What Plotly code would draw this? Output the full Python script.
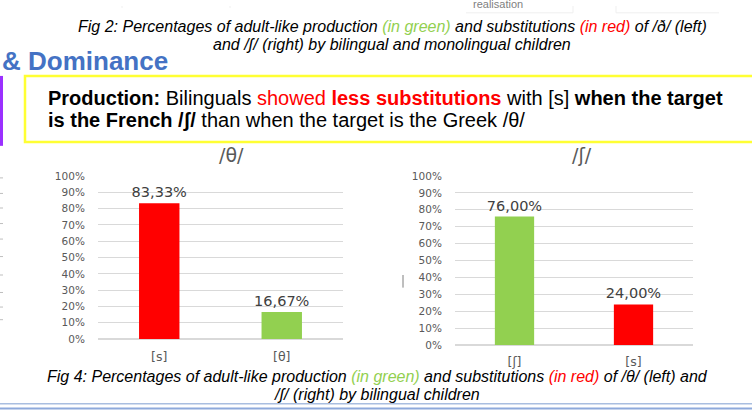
import plotly.graph_objects as go

# data
left_title = "/θ/"
left_cats = ["[s]", "[θ]"]
left_vals = [83.33, 16.67]
left_colors = ["#FF0000", "#92D050"]

right_title = "/ʃ/"
right_cats = ["[ʃ]", "[s]"]
right_vals = [76.00, 24.00]
right_colors = ["#92D050", "#FF0000"]

W, H = 752, 416
GREY = "#595959"
GRID = "#D9D9D9"
LBL_FONT = "DejaVu Sans"
TXT_FONT = "Liberation Sans, Arial, sans-serif"


def px(x):
    return x / W


def py(y):
    return 1 - y / H


def pct_text(vals):
    return [f"{v:.2f}%".replace(".", ",") for v in vals]


fig = go.Figure()

fig.add_trace(go.Bar(
    x=left_cats, y=left_vals, marker=dict(color=left_colors, line=dict(width=0)),
    text=pct_text(left_vals), textposition="outside", cliponaxis=False,
    constraintext="none",
    textfont=dict(family=LBL_FONT, size=14.5, color="#404040"),
    xaxis="x", yaxis="y", showlegend=False,
))
fig.add_trace(go.Bar(
    x=right_cats, y=right_vals, marker=dict(color=right_colors, line=dict(width=0)),
    text=pct_text(right_vals), textposition="outside", cliponaxis=False,
    constraintext="none",
    textfont=dict(family=LBL_FONT, size=14.5, color="#404040"),
    xaxis="x2", yaxis="y2", showlegend=False,
))

yax = dict(
    range=[0, 100], dtick=10, ticksuffix="%", showgrid=True, gridcolor=GRID,
    zeroline=True, zerolinecolor=GRID, showline=False,
    ticks="outside", ticklen=10, tickcolor="rgba(0,0,0,0)",
    tickfont=dict(family=LBL_FONT, size=10.5, color=GREY), fixedrange=True,
)
xax = dict(
    showline=False, showgrid=False, zeroline=False, ticks="",
    ticklabelstandoff=8,
    tickfont=dict(family=LBL_FONT, size=12.5, color=GREY), fixedrange=True,
)

fig.update_layout(
    width=W, height=H,
    margin=dict(l=0, r=0, t=0, b=0),
    paper_bgcolor="white", plot_bgcolor="white",
    bargap=0.67,
    xaxis=dict(xax, domain=[px(98), px(343)], anchor="y"),
    yaxis=dict(yax, domain=[py(343), py(175)], anchor="x"),
    xaxis2=dict(xax, domain=[px(455), px(693)], anchor="y2"),
    yaxis2=dict(yax, domain=[py(349), py(175)], anchor="x2"),
)

green = "#92D050"
anns = [
    # top caption (Fig 2)
    dict(x=px(392), y=py(21),
         text=f"<i>Fig 2: Percentages of adult-like production <span style='color:{green}'>(in green)</span> "
              f"and substitutions <span style='color:#FF0000'>(in red)</span> of /ð/ (left)</i>",
         font=dict(family=TXT_FONT, size=16, color="#000000")),
    dict(x=px(392), y=py(40),
         text="<i>and /ʃ/ (right) by bilingual and monolingual children</i>",
         font=dict(family=TXT_FONT, size=16, color="#000000")),
    dict(x=px(498), y=py(-2), text="realisation",
         font=dict(family=TXT_FONT, size=11, color="#7F7F7F")),
    # section heading
    dict(x=0, y=py(57), xanchor="left", text="<b>& Dominance</b>",
         font=dict(family=TXT_FONT, size=26, color="#4472C4")),
    # yellow box text
    dict(x=px(46), y=py(95), xanchor="left",
         text="<b>Production:</b> Bilinguals <span style='color:#FF0000'>showed <b>less substitutions</b></span> "
              "with [s] <b>when the target</b>",
         font=dict(family=TXT_FONT, size=20, color="#000000")),
    dict(x=px(46), y=py(117), xanchor="left",
         text="<b>is the French /ʃ/</b> than when the target is the Greek /θ/",
         font=dict(family=TXT_FONT, size=20, color="#000000")),
    # chart titles
    dict(x=px(231), y=py(153), text=left_title,
         font=dict(family=LBL_FONT, size=19, color=GREY)),
    dict(x=px(582), y=py(153), text=right_title,
         font=dict(family=LBL_FONT, size=19, color=GREY)),
    # bottom caption (Fig 4)
    dict(x=px(377), y=py(382),
         text=f"<i>Fig 4: Percentages of adult-like production <span style='color:{green}'>(in green)</span> "
              f"and substitutions <span style='color:#FF0000'>(in red)</span> of /θ/ (left) and</i>",
         font=dict(family=TXT_FONT, size=16, color="#000000")),
    dict(x=px(377), y=py(400),
         text="<i>/ʃ/ (right) by bilingual children</i>",
         font=dict(family=TXT_FONT, size=16, color="#000000")),
]
for a in anns:
    a.setdefault("xanchor", "center")
    a.update(xref="paper", yref="paper", yanchor="middle", showarrow=False)
fig.update_layout(annotations=anns)

shapes = [
    # yellow highlight box
    dict(type="rect", x0=px(25), x1=px(760), y0=py(140), y1=py(72),
         line=dict(color="#FFFF33", width=2.5), fillcolor="rgba(0,0,0,0)"),
    # purple side bar
    dict(type="rect", x0=0, x1=px(3), y0=py(144), y1=py(72),
         line=dict(width=0), fillcolor="#9B30FF"),
    # double rule at the bottom
    dict(type="line", x0=0, x1=1, y0=py(409.5), y1=py(409.5),
         line=dict(color="#A9BEE0", width=1.5)),
    dict(type="line", x0=0, x1=1, y0=py(414.5), y1=py(414.5),
         line=dict(color="#8EA9DB", width=2)),
    # stray cursor mark
    dict(type="line", x0=px(403), x1=px(403), y0=py(277), y1=py(290),
         line=dict(color="#7F7F7F", width=1)),
    # faint table rules at the very top
    dict(type="line", x0=px(466), x1=px(573), y0=py(7), y1=py(7),
         line=dict(color="#EFEFEF", width=1)),
    dict(type="line", x0=px(616), x1=px(719), y0=py(7), y1=py(7),
         line=dict(color="#EFEFEF", width=1)),
]
for xv in [573, 616]:
    shapes.append(dict(type="line", x0=px(xv), x1=px(xv), y0=py(0), y1=py(7),
                       line=dict(color="#EFEFEF", width=1)))
for xv in [122, 230]:
    shapes.append(dict(type="line", x0=px(xv), x1=px(xv), y0=py(0), y1=py(2),
                       line=dict(color="#EFEFEF", width=1)))
# cut-off gridlines of a chart off the left edge
for yv in [177, 193, 208, 224, 240, 258, 277, 295, 310, 323]:
    shapes.append(dict(type="line", x0=0, x1=px(3), y0=py(yv), y1=py(yv),
                       line=dict(color="#BFBFBF", width=1)))
for s in shapes:
    s.update(xref="paper", yref="paper", layer="above")
fig.update_layout(shapes=shapes)

fig.write_html(
    "out.html",
    config={"displayModeBar": False},
    post_script="document.body.style.margin='0';document.body.style.overflow='hidden';",
)
